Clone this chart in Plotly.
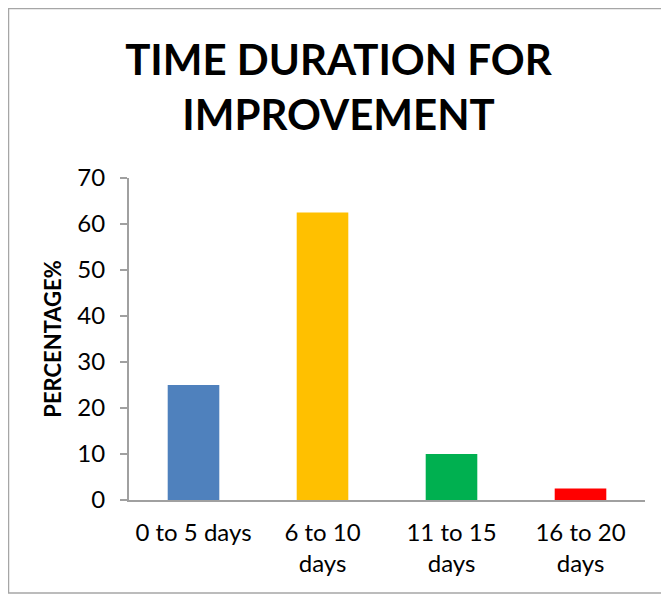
import plotly.graph_objects as go

categories = ["0 to 5 days", "6 to 10<br>days", "11 to 15<br>days", "16 to 20<br>days"]
percentages = [25, 62.5, 10, 2.5]
bar_colors = ["#4F81BD", "#FFC000", "#00B050", "#FF0000"]
y_ticks = [0, 10, 20, 30, 40, 50, 60, 70]

# page has an 8px body margin, so the figure is a bit smaller than the window
W, H = 661, 588
L, R, T, B = 121, 24, 170, 96


def px_x(px):
    return (px - L) / (W - L - R)


def px_y(py):
    return (H - B - py) / (H - T - B)


fig = go.Figure()
fig.add_trace(go.Bar(x=categories, y=percentages, marker=dict(color=bar_colors, line=dict(width=0)),
                     showlegend=False))

fig.update_layout(
    width=W, height=H,
    margin=dict(l=L, r=R, t=T, b=B),
    plot_bgcolor="white", paper_bgcolor="white",
    font=dict(family="Lato, Open Sans, sans-serif", color="black", size=24),
    bargap=0.6,
    title=dict(text="<b>TIME DURATION FOR<br>IMPROVEMENT</b>", x=0.5, xanchor="center",
               y=0.886, yanchor="middle", font=dict(size=42)),
    shapes=[dict(type="rect", xref="paper", yref="paper",
                 x0=px_x(0.5), x1=px_x(658), y0=px_y(585), y1=px_y(0.5),
                 line=dict(color="#a6a6a6", width=1.5), layer="below")],
)
fig.update_xaxes(showline=True, linecolor="#a0a0a0", linewidth=2, ticks="",
                 tickfont=dict(size=24), ticklabelstandoff=10)
fig.update_yaxes(range=[0, 70], tickvals=y_ticks, showgrid=False, zeroline=False,
                 showline=True, linecolor="#a0a0a0", linewidth=2,
                 ticks="outside", ticklen=7, tickcolor="#a0a0a0", tickwidth=2,
                 tickfont=dict(size=24), ticklabelstandoff=10,
                 title=dict(text="<b>PERCENTAGE%</b>", font=dict(size=22), standoff=10))

fig.write_html("out.html")
